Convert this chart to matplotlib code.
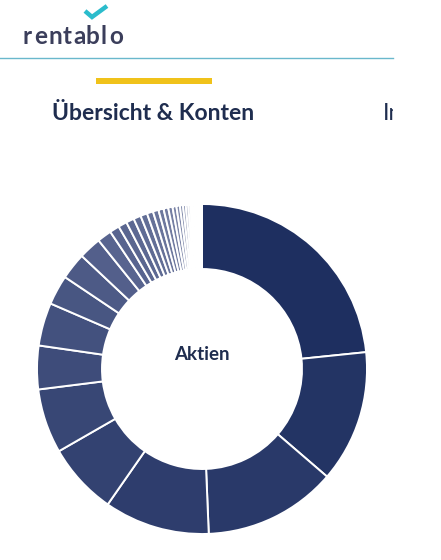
import matplotlib.pyplot as plt
import matplotlib.colors as mcolors
import numpy as np

# share of each position in the "Aktien" donut (percent, clockwise from top)
positionen_anteil = [23.3, 12.9, 13.0, 10.3, 7.0, 6.3, 4.25, 4.2, 2.9, 2.6, 2.2, 1.4,
                     0.95, 0.85, 0.78, 0.72, 0.66, 0.6, 0.55, 0.5, 0.46, 0.42,
                     0.38, 0.34, 0.3, 0.27, 0.24, 0.21, 0.18, 0.16, 0.14, 0.12,
                     0.1, 0.09, 0.08, 0.07, 0.06, 0.05, 0.04, 0.03]
mitte_label = 'Aktien'
logo_text = 'rentablo'
tab_aktiv = 'Übersicht & Konten'
tab_naechster = 'In'

W, H = 441, 560
fig = plt.figure(figsize=(W / 100, H / 100), dpi=100)

######## page overlay in pixel coords
bg = fig.add_axes([0, 0, 1, 1])
bg.set_xlim(0, W)
bg.set_ylim(H, 0)
bg.axis('off')

# logo, letter-spaced (centre of each glyph)
logo_x = [27.5, 40.5, 55, 67, 79.5, 92.5, 104, 116.5]
for ch, x in zip(logo_text, logo_x):
    bg.text(x, 44, ch, fontsize=17.5, family='Lato', weight='bold',
            color='#3b3e5b', ha='center', va='baseline')
bg.plot([85, 92, 107], [11, 17, 6], color='#2bbccc', lw=3.2,
        solid_capstyle='butt', solid_joinstyle='miter')
# header line
bg.plot([0, 393], [58, 58], color='#6ab8cc', lw=1)

# tabs
bg.add_patch(plt.Rectangle((96, 78), 116, 6, color='#f0c21a', lw=0))
bg.text(52, 114, tab_aktiv, fontsize=16.5, family='Lato', weight='bold',
        color='#1f2d4f', ha='left', va='center')
bg.text(383, 114, tab_naechster, fontsize=16.5, family='Lato',
        color='#1f2d4f', ha='left', va='center')
# next tab is cut off by the page edge
bg.add_patch(plt.Rectangle((393, 95), 48, 40, color='white', lw=0, zorder=10))

######## donut
cx, cy, R = 202, 369, 165
ax = fig.add_axes([(cx - R) / W, (H - cy - R) / H, 2 * R / W, 2 * R / H])
n = len(positionen_anteil)
c0 = np.array(mcolors.to_rgb('#1e2f60'))
c1 = np.array(mcolors.to_rgb('#58648f'))
c2 = np.array(mcolors.to_rgb('#d2d6e2'))
farben = []
for i in range(n):
    if i < 12:
        k = i / 11
        farben.append(tuple(c0 + (c1 - c0) * k))
    else:
        k = ((i - 12) / (n - 13)) ** 1.3
        farben.append(tuple(c1 + (c2 - c1) * k))
ax.pie(positionen_anteil, colors=farben, startangle=90, counterclock=False,
       radius=1, wedgeprops=dict(width=0.394, edgecolor='white', linewidth=1.4))
ax.set_xlim(-1, 1)
ax.set_ylim(-1, 1)
ax.set_aspect('equal')
ax.axis('off')

bg.text(cx, 354, mitte_label, fontsize=13.5, family='Lato', weight='bold',
        color='#1f2d4f', ha='center', va='center')

plt.savefig('out.png', dpi=100)
